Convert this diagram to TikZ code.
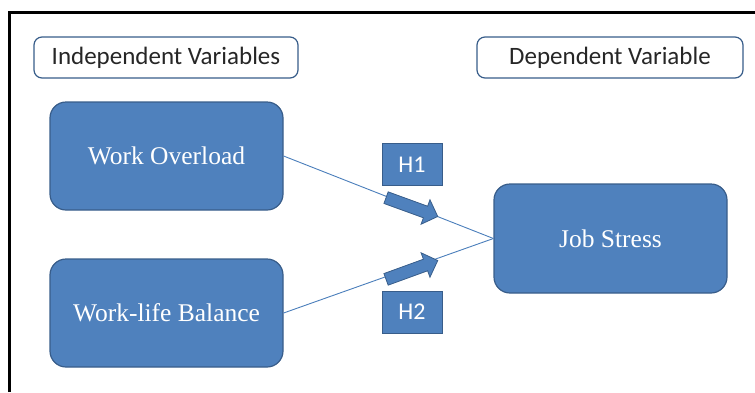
\documentclass[tikz,border=0pt]{standalone}
\usepackage{fontspec}
\setmainfont{Liberation Serif}
\newfontfamily\calib{Carlito}
\usetikzlibrary{shapes.arrows}
\definecolor{boxblue}{HTML}{4F81BD}
\definecolor{boxline}{HTML}{385D8A}
\definecolor{linkblue}{HTML}{4A7EBB}
\begin{document}
\begin{tikzpicture}[x=1pt,y=-1pt,
  label/.style={draw=boxline,line width=1.2pt,fill=white,rounded corners=8pt,
    minimum height=41pt,font=\calib\fontsize{25}{28}\selectfont,text=black!85},
  var/.style={draw=boxline,line width=1.2pt,fill=boxblue,rounded corners=16pt,
    minimum width=233pt,minimum height=108pt,text=white,font=\fontsize{25.5}{28}\selectfont},
  hyp/.style={draw=boxline,line width=1pt,fill=boxblue,minimum width=60pt,
    minimum height=42pt,text=white,font=\calib\fontsize{24}{26}\selectfont},
  blockarrow/.style={single arrow,draw=boxline,line width=.8pt,fill=boxblue,
    minimum height=55pt,minimum width=26pt,inner sep=5pt,single arrow head extend=6pt},
  link/.style={draw=linkblue,line width=.9pt}]
\useasboundingbox (0,0) rectangle (755,392);
\draw[line width=3pt] (9,392) -- (9,12) -- (755,12);
% headings
\node[label,minimum width=264pt] (indep) at (166,57.5) {Independent Variables};
\node[label,minimum width=266pt] (dep) at (610,57.5) {Dependent Variable};
% variables
\node[var] (wo) at (166.5,156) {Work Overload};
\node[var] (wlb) at (166.5,313) {Work-life Balance};
\node[var,minimum height=109pt] (js) at (610.5,238.5) {Job Stress};
\draw[link] (wo.east) -- (js.west);
\draw[link] (wlb.east) -- (js.west);
% hypotheses
\node[hyp] (h1) at (412,164.5) {H1};
\node[hyp] (h2) at (412,312) {H2};
\node[blockarrow,rotate=-20] (a1) at (409,206) {};
\node[blockarrow,rotate=20] (a2) at (409,271) {};
\end{tikzpicture}
\end{document}
